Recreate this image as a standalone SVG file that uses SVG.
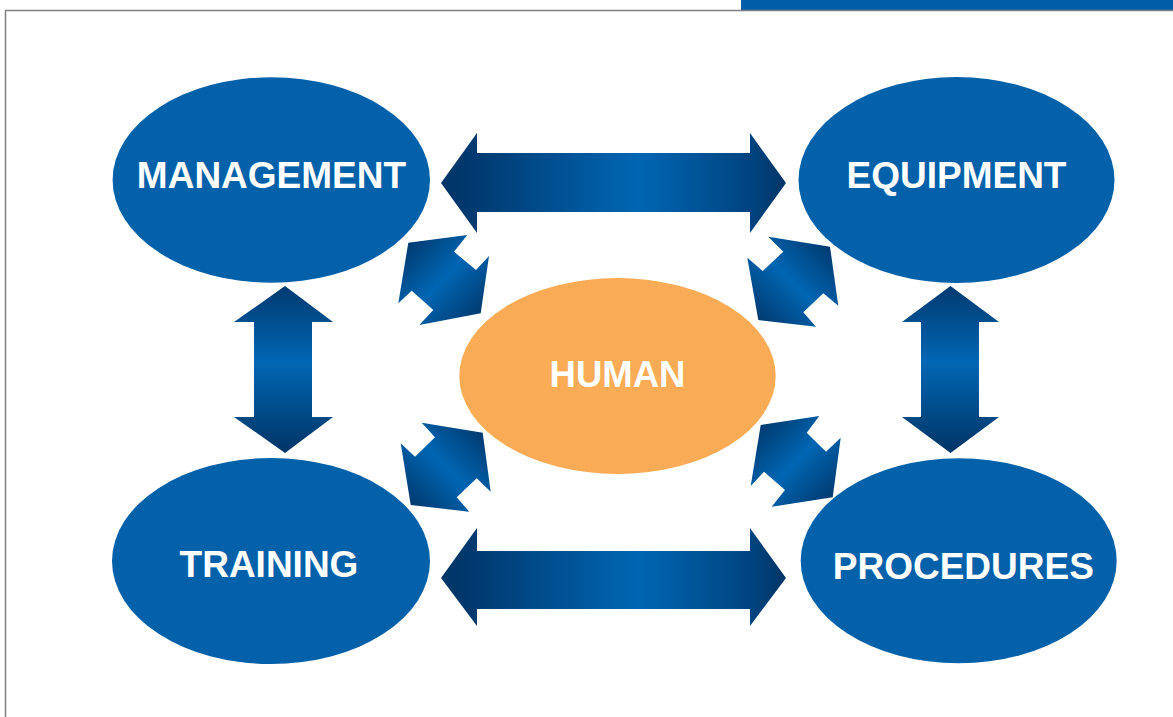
<svg xmlns="http://www.w3.org/2000/svg" width="1173" height="717" viewBox="0 0 1173 717">
<style>
.blue{fill:#0361aa}
.orange{fill:#f9ab55}
.lbl{font-family:"Liberation Sans",Arial,sans-serif;font-weight:bold;font-size:37px;fill:#ffffff;text-anchor:middle}
</style>
<defs>
<linearGradient id="gh" x1="441" y1="0" x2="786" y2="0" gradientUnits="userSpaceOnUse">
<stop offset="0" stop-color="#003566"/>
<stop offset="0.1" stop-color="#003a70"/>
<stop offset="0.57" stop-color="#0066b3"/>
<stop offset="0.9" stop-color="#00437f"/>
<stop offset="1" stop-color="#003566"/>
</linearGradient>
<linearGradient id="gv" x1="0" y1="286" x2="0" y2="453" gradientUnits="userSpaceOnUse">
<stop offset="0" stop-color="#003a70"/>
<stop offset="0.45" stop-color="#0066b3"/>
<stop offset="1" stop-color="#003566"/>
</linearGradient>
<linearGradient id="gd1" x1="408" y1="243" x2="481" y2="313" gradientUnits="userSpaceOnUse">
<stop offset="0" stop-color="#003a70"/>
<stop offset="0.5" stop-color="#0066b3"/>
<stop offset="1" stop-color="#003a70"/>
</linearGradient>
<linearGradient id="gd2" x1="830" y1="247" x2="758" y2="320" gradientUnits="userSpaceOnUse">
<stop offset="0" stop-color="#003a70"/>
<stop offset="0.5" stop-color="#0066b3"/>
<stop offset="1" stop-color="#003a70"/>
</linearGradient>
<linearGradient id="gd3" x1="483" y1="433" x2="411" y2="505" gradientUnits="userSpaceOnUse">
<stop offset="0" stop-color="#003a70"/>
<stop offset="0.5" stop-color="#0066b3"/>
<stop offset="1" stop-color="#003a70"/>
</linearGradient>
<linearGradient id="gd4" x1="761" y1="425" x2="833" y2="497" gradientUnits="userSpaceOnUse">
<stop offset="0" stop-color="#003a70"/>
<stop offset="0.5" stop-color="#0066b3"/>
<stop offset="1" stop-color="#003a70"/>
</linearGradient>
</defs>
<rect x="0" y="0" width="1173" height="717" fill="#ffffff"/>
<rect x="741" y="0" width="432" height="10" fill="#005ea8"/>
<path d="M5.5 717 V10.5 H1173" fill="none" stroke="#808080" stroke-width="1.5"/>
<g id="connectors">
<polygon fill="url(#gh)" points="441,183 477,133 477,153 750,153 750,133 786,183 750,233 750,212 477,212 477,233"/>
<polygon fill="url(#gh)" points="441,578 477,528 477,551 750,551 750,528 786,578 750,626 750,609 477,609 477,626"/>
<polygon fill="url(#gv)" points="285,286 333,322 312,322 312,417 333,417 285,453 234,417 254,417 254,322 234,322"/>
<polygon fill="url(#gv)" points="950.5,286 999,322 979,322 979,417 999,417 950.5,453 902,417 921,417 921,322 902,322"/>
<polygon fill="url(#gd1)" points="408.3,242.7 467.3,235 454,251.7 476,270 489,256 480.7,313.3 419.3,325 433.3,310 411.7,290.7 398.3,303.3"/>
<polygon fill="url(#gd2)" points="768.3,236.7 830,246.7 838.3,305.7 823.3,293.3 803.3,312.3 816,326.7 758.3,320 747.3,257.7 762.7,271 783.3,251.7"/>
<polygon fill="url(#gd3)" points="421.7,422.7 482.7,432.7 490.7,491.7 476.7,478.3 456.7,497.3 469.3,511.7 410.7,505 400.7,443.3 415,456.7 435,437.3"/>
<polygon fill="url(#gd4)" points="760.7,425 819.3,416 806.7,432.7 826,451.7 840.7,437.7 832.7,497.3 771.7,506.7 785,490 764,471.7 750.7,486"/>
</g>
<g id="management">
<ellipse class="blue" cx="271.3" cy="180" rx="158.7" ry="102.7"/>
<text class="lbl" x="271.5" y="188.3">MANAGEMENT</text>
</g>
<g id="equipment">
<ellipse class="blue" cx="956.5" cy="180" rx="158" ry="103"/>
<text class="lbl" x="956.5" y="188.3">EQUIPMENT</text>
</g>
<g id="human">
<ellipse class="orange" cx="617.5" cy="376" rx="158.2" ry="98"/>
<text class="lbl" x="617.5" y="387.3" style="font-size:36.5px">HUMAN</text>
</g>
<g id="training">
<ellipse class="blue" cx="271" cy="561" rx="159" ry="103"/>
<text class="lbl" x="269" y="576.7">TRAINING</text>
</g>
<g id="procedures">
<ellipse class="blue" cx="958.7" cy="560.8" rx="158" ry="102.5"/>
<text class="lbl" x="963.3" y="579.3">PROCEDURES</text>
</g>
</svg>
